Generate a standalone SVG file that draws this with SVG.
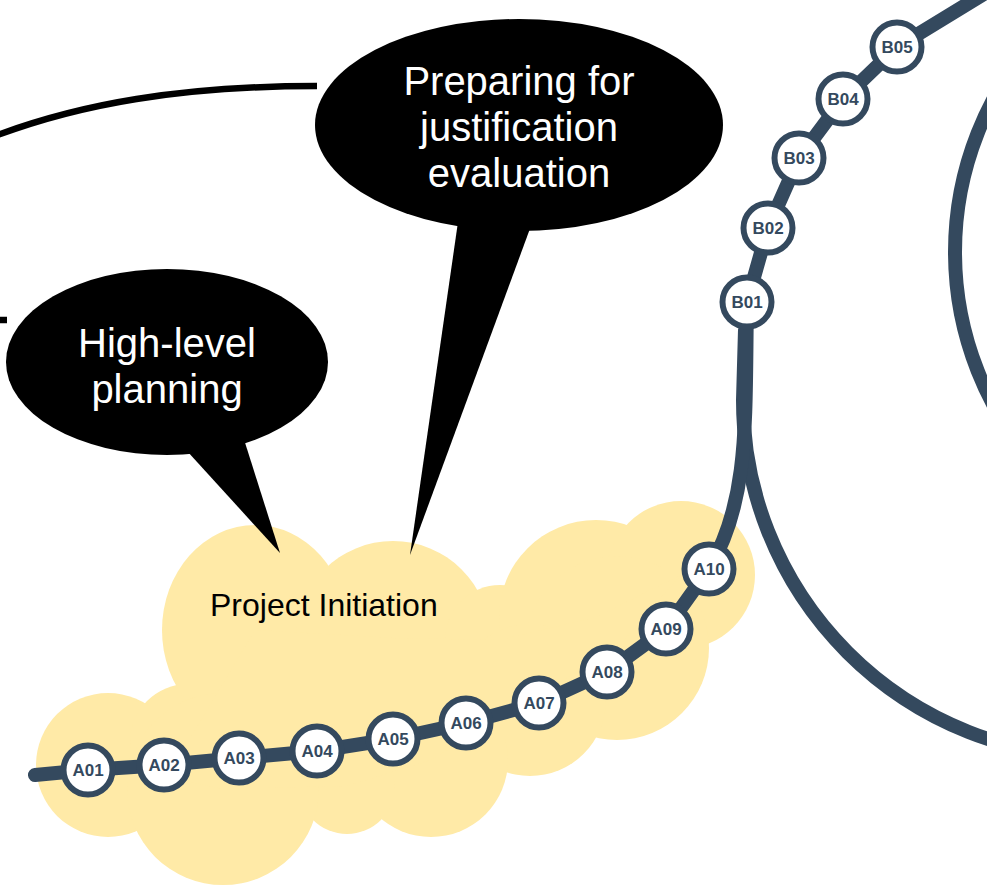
<svg xmlns="http://www.w3.org/2000/svg" width="987" height="886" viewBox="0 0 987 886">
<style>
.cloud{fill:#FFEAA7;stroke:none}
.bubble{fill:#000000;stroke:none}
.btext{font-family:"Liberation Sans",Arial,sans-serif;font-size:40px;fill:#ffffff;text-anchor:middle}
.ctext{font-family:"Liberation Sans",Arial,sans-serif;font-size:32px;fill:#000000}
.track{fill:none;stroke:#34495E;stroke-width:14;stroke-linecap:round;stroke-linejoin:round}
.blk{fill:none;stroke:#000000;stroke-width:6.5;stroke-linecap:butt}
.node circle{fill:#ffffff;stroke:#34495E;stroke-width:6}
.node text{font-family:"Liberation Sans",Arial,sans-serif;font-size:17px;font-weight:bold;fill:#34495E;text-anchor:middle}
</style>
<rect width="987" height="886" fill="#ffffff"/>
<g id="cloud-project-initiation" class="cloud">
<circle cx="108" cy="765" r="72"/>
<circle cx="188" cy="742" r="58"/>
<ellipse cx="255" cy="630" rx="93" ry="105"/>
<circle cx="393" cy="638" r="97"/>
<circle cx="500" cy="640" r="55"/>
<circle cx="596" cy="617" r="97"/>
<circle cx="681" cy="575" r="74"/>
<circle cx="617" cy="648" r="92"/>
<circle cx="530" cy="700" r="76"/>
<circle cx="431" cy="760" r="77"/>
<circle cx="347" cy="786" r="48"/>
<circle cx="223" cy="789" r="96"/>
<polygon points="108,765 188,742 255,630 393,638 500,640 596,617 681,575 617,648 530,700 431,760 347,786 223,789"/>
<text class="ctext" x="210" y="616">Project Initiation</text>
</g>
<g id="connectors">
<path class="blk" d="M -5 136 C 80 104, 180 86, 317 86"/>
<path class="blk" d="M -5 320 L 7 320"/>
<path class="track" d="M 745 330 L 743 400 A 357 357 0 0 0 1100 757"/>
<circle class="track" cx="1278" cy="252" r="323"/>
<path class="track" d="M 35 775 L 88 770 L 164 765 L 239 758 L 317 751 L 393 739 L 466 723 L 539 703 L 607 672 L 666 629 L 709 569 C 750 500, 745 420, 747 302 L 768 228 L 799 158 L 843 99 L 897 47 L 992 -11"/>
</g>
<g id="bubble-justification">
<ellipse class="bubble" cx="519" cy="125" rx="204" ry="106"/>
<polygon class="bubble" points="459,215 535,215 410,555"/>
<text class="btext" x="519" y="95">Preparing for</text>
<text class="btext" x="519" y="141">justification</text>
<text class="btext" x="519" y="187">evaluation</text>
</g>
<g id="bubble-high-level">
<ellipse class="bubble" cx="167" cy="362" rx="161" ry="93"/>
<polygon class="bubble" points="177,440 241,430 280,553"/>
<text class="btext" x="167" y="357">High-level</text>
<text class="btext" x="167" y="403">planning</text>
</g>
<g id="node-A01" class="node"><circle cx="88" cy="770" r="24.5"/><text x="88" y="776">A01</text></g>
<g id="node-A02" class="node"><circle cx="164" cy="765" r="24.5"/><text x="164" y="771">A02</text></g>
<g id="node-A03" class="node"><circle cx="239" cy="758" r="24.5"/><text x="239" y="764">A03</text></g>
<g id="node-A04" class="node"><circle cx="317" cy="751" r="24.5"/><text x="317" y="757">A04</text></g>
<g id="node-A05" class="node"><circle cx="393" cy="739" r="24.5"/><text x="393" y="745">A05</text></g>
<g id="node-A06" class="node"><circle cx="466" cy="723" r="24.5"/><text x="466" y="729">A06</text></g>
<g id="node-A07" class="node"><circle cx="539" cy="703" r="24.5"/><text x="539" y="709">A07</text></g>
<g id="node-A08" class="node"><circle cx="607" cy="672" r="24.5"/><text x="607" y="678">A08</text></g>
<g id="node-A09" class="node"><circle cx="666" cy="629" r="24.5"/><text x="666" y="635">A09</text></g>
<g id="node-A10" class="node"><circle cx="709" cy="569" r="24.5"/><text x="709" y="575">A10</text></g>
<g id="node-B01" class="node"><circle cx="747" cy="302" r="24.5"/><text x="747" y="308">B01</text></g>
<g id="node-B02" class="node"><circle cx="768" cy="228" r="24.5"/><text x="768" y="234">B02</text></g>
<g id="node-B03" class="node"><circle cx="799" cy="158" r="24.5"/><text x="799" y="164">B03</text></g>
<g id="node-B04" class="node"><circle cx="843" cy="99" r="24.5"/><text x="843" y="105">B04</text></g>
<g id="node-B05" class="node"><circle cx="897" cy="47" r="24.5"/><text x="897" y="53">B05</text></g>
</svg>
